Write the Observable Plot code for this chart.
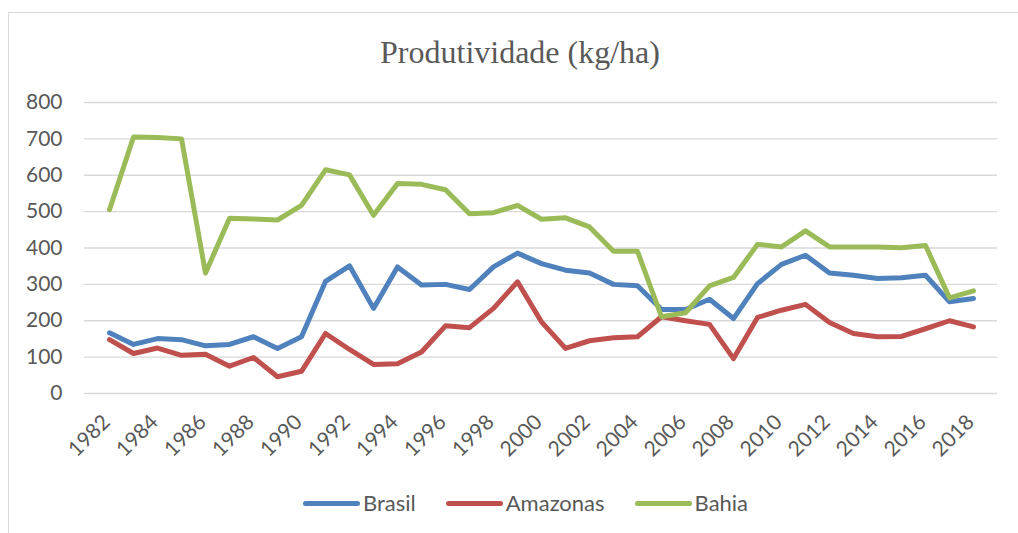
<!DOCTYPE html>
<html>
<head>
<meta charset="utf-8">
<script src="https://cdn.jsdelivr.net/npm/d3@7"></script>
<script src="https://cdn.jsdelivr.net/npm/@observablehq/plot@0.6"></script>
<style>
  html, body { margin: 0; padding: 0; background: #fff; }
  #wrap { position: relative; width: 1018px; height: 533px; overflow: hidden; background: #fff; }
  #frame { position: absolute; left: 8px; top: 12px; width: 1200px; height: 700px; border-left: 1px solid #d9d9d9; border-top: 1px solid #d9d9d9; }
  #title { position: absolute; left: 0; width: 1040px; top: 36px; text-align: center; font-family: "Liberation Serif", "DejaVu Serif", serif; font-size: 32px; line-height: 32px; color: #595959; }
  #chart { position: absolute; left: 0; top: 80px; }
  #legend { position: absolute; top: 490px; left: 303px; display: flex; align-items: center; font-family: Lato, "Liberation Sans", sans-serif; font-size: 22px; color: #595959; line-height: 26px; }
  .item { display: flex; align-items: center; margin-right: 30px; }
  .sw { width: 57px; height: 5px; border-radius: 3px; margin-right: 3px; }
</style>
</head>
<body>
<div id="wrap">
  <div id="frame"></div>
  <div id="title">Produtividade (kg/ha)</div>
  <div id="chart"></div>
  <div id="legend"></div>
</div>
<script>
const years = [1982,1983,1984,1985,1986,1987,1988,1989,1990,1991,1992,1993,1994,1995,1996,1997,1998,1999,2000,2001,2002,2003,2004,2005,2006,2007,2008,2009,2010,2011,2012,2013,2014,2015,2016,2017,2018];
const brasil   = [167,135,151,148,131,135,156,124,156,308,351,234,348,298,300,286,348,386,357,339,331,300,296,231,231,259,206,302,355,380,331,325,316,318,325,252,261];
const amazonas = [148,110,125,105,108,75,99,46,61,165,121,80,82,114,186,181,234,307,197,124,145,153,156,211,200,190,96,209,229,245,195,165,156,157,178,200,183];
const bahia    = [505,705,704,700,331,482,480,477,517,615,601,490,577,575,560,494,497,517,479,483,458,391,391,211,222,296,319,410,403,447,403,403,403,401,407,263,282];
const seriesNames = ["Brasil", "Amazonas", "Bahia"];
const seriesColors = ["#4F81BD", "#C0504D", "#9BBB59"];
const yTicks = [0,100,200,300,400,500,600,700,800];
const xTicks = years.filter((y, i) => i % 2 === 0);

const seriesValues = [brasil, amazonas, bahia];
const table = [];
seriesNames.forEach((name, s) => {
  years.forEach((yr, i) => table.push({series: name, year: yr, value: seriesValues[s][i]}));
});

const chart = Plot.plot({
  width: 1018,
  height: 400,
  marginLeft: 84,
  marginRight: 21,
  marginTop: 22,
  marginBottom: 87,
  style: { fontFamily: "Lato, 'Liberation Sans', sans-serif", fontSize: "21px", color: "#595959", background: "transparent" },
  x: { type: "point", domain: years, padding: 0.5 },
  y: { domain: [0, 800] },
  color: { domain: seriesNames, range: seriesColors },
  marks: [
    Plot.gridY(yTicks, { stroke: "#d9d9d9", strokeOpacity: 1, strokeWidth: 1.3 }),
    Plot.axisY({ ticks: yTicks, tickSize: 0, tickPadding: 22, label: null, fontSize: 21, fill: "#595959" }),
    Plot.axisX({ ticks: xTicks, tickSize: 0, tickPadding: 25, tickRotate: -45, dx: -3, tickFormat: d => String(d), label: null, fontSize: 21, fill: "#595959" }),
    Plot.line(table, { x: "year", y: "value", z: "series", stroke: "series", strokeWidth: 5, strokeLinejoin: "round", strokeLinecap: "round" })
  ]
});
document.getElementById("chart").appendChild(chart);

const legend = document.getElementById("legend");
seriesNames.forEach((name, i) => {
  const item = document.createElement("div");
  item.className = "item";
  const sw = document.createElement("div");
  sw.className = "sw";
  sw.style.background = seriesColors[i];
  const t = document.createElement("span");
  t.textContent = name;
  item.appendChild(sw);
  item.appendChild(t);
  legend.appendChild(item);
});
</script>
</body>
</html>
